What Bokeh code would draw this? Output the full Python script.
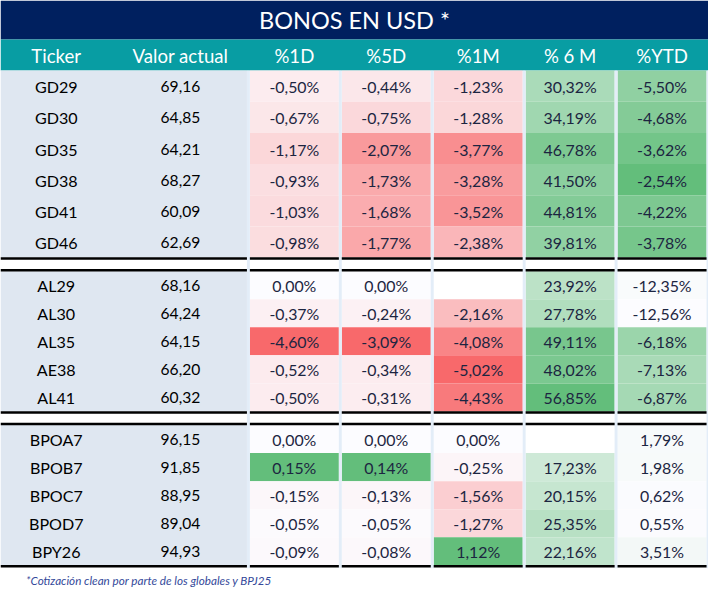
from bokeh.plotting import figure
from bokeh.models import Range1d, ColumnDataSource
from bokeh.embed import file_html
from bokeh.resources import INLINE
from bokeh.core.properties import value

# ---------------- data ----------------
title_text = "BONOS EN USD *"
headers = ["Ticker", "Valor actual", "%1D", "%5D", "%1M", "% 6 M", "%YTD"]
tickers = ["GD29", "GD30", "GD35", "GD38", "GD41", "GD46",
           "AL29", "AL30", "AL35", "AE38", "AL41",
           "BPOA7", "BPOB7", "BPOC7", "BPOD7", "BPY26"]
valor = [69.16, 64.85, 64.21, 68.27, 60.09, 62.69,
         68.16, 64.24, 64.15, 66.20, 60.32,
         96.15, 91.85, 88.95, 89.04, 94.93]
chg_1d = [-0.50, -0.67, -1.17, -0.93, -1.03, -0.98,
          0.00, -0.37, -4.60, -0.52, -0.50,
          0.00, 0.15, -0.15, -0.05, -0.09]
chg_5d = [-0.44, -0.75, -2.07, -1.73, -1.68, -1.77,
          0.00, -0.24, -3.09, -0.34, -0.31,
          0.00, 0.14, -0.13, -0.05, -0.08]
chg_1m = [-1.23, -1.28, -3.77, -3.28, -3.52, -2.38,
          None, -2.16, -4.08, -5.02, -4.43,
          0.00, -0.25, -1.56, -1.27, 1.12]
chg_6m = [30.32, 34.19, 46.78, 41.50, 44.81, 39.81,
          23.92, 27.78, 49.11, 48.02, 56.85,
          None, 17.23, 20.15, 25.35, 22.16]
chg_ytd = [-5.50, -4.68, -3.62, -2.54, -4.22, -3.78,
           -12.35, -12.56, -6.18, -7.13, -6.87,
           1.79, 1.98, 0.62, 0.55, 3.51]
group_sizes = [6, 5, 5]
footnote = "*Cotización clean por parte de los globales y BPJ25"

# ---------------- styles / layout ----------------
W, H = 724, 610
FW, FH = 708, 594
S = FW / W
FONT = "Lato"
NAVY = "#00205F"
TEAL = "#089DA3"
LEFT_BG = "#DFE7F1"
SEP = "#E3EDF8"
TXT = "#1C2541"
RED = (248, 105, 107)
MID = (252, 252, 255)
GREEN = (99, 190, 123)

def lerp(c0, c1, t):
    t = max(0.0, min(1.0, t))
    return "#%02x%02x%02x" % tuple(int(round(a + (b - a) * t)) for a, b in zip(c0, c1))

def diverging(vals):
    nums = [v for v in vals if v is not None]
    lo, hi = min(nums), max(nums)
    out = []
    for v in vals:
        if v is None:
            out.append("#FFFFFF")
        elif v < 0:
            out.append(lerp(MID, RED, v / lo))
        elif v > 0:
            out.append(lerp(MID, GREEN, v / hi))
        else:
            out.append(lerp(MID, MID, 0))
    return out

def fmt_pct(v):
    return "" if v is None else ("%.2f" % v).replace(".", ",") + "%"

# YTD colours: first two groups share a white->green scale; the last group is nearly neutral
n12 = group_sizes[0] + group_sizes[1]
ytd12 = chg_ytd[:n12]
lo12, hi12 = min(ytd12), max(ytd12)
ref_max = max(v for v in chg_6m if v is not None)
ytd_colors = [lerp(MID, GREEN, (v - lo12) / (hi12 - lo12)) for v in ytd12] + \
             [lerp(MID, GREEN, v / ref_max) for v in chg_ytd[n12:]]

col_values = [chg_1d, chg_5d, chg_1m, chg_6m, chg_ytd]
col_colors = [diverging(chg_1d), diverging(chg_5d), diverging(chg_1m), diverging(chg_6m), ytd_colors]

# geometry
TITLE_B = 40
HEAD_B = 72
group_tops = [72, 278, 436]
group_rh = [32, 28.8, 28.8]
left_x0, left_x1 = 0, 252
col_x0 = [255, 349, 443, 537, 631]
col_w = 91
sep_x = [252, 346, 440, 534, 628, 722]
text_x = [57, 184] + [x + col_w / 2 for x in col_x0]

row_top, row_bot = [], []
for g, n in enumerate(group_sizes):
    for i in range(n):
        row_top.append(group_tops[g] + i * group_rh[g])
        row_bot.append(group_tops[g] + (i + 1) * group_rh[g])
row_mid = [(a + b) / 2 for a, b in zip(row_top, row_bot)]

p = figure(width=FW, height=FH, x_range=Range1d(0, W), y_range=Range1d(H, 0),
           output_backend="svg", toolbar_location=None,
           x_axis_location=None, y_axis_location=None,
           min_border=0, min_border_left=0, min_border_right=0,
           min_border_top=0, min_border_bottom=0,
           outline_line_color=None, background_fill_color="white",
           border_fill_color="white")
p.grid.visible = False

# title & header bands
p.quad(left=[0, 0], right=[W, W], top=[0, TITLE_B], bottom=[TITLE_B, HEAD_B],
       fill_color=[NAVY, TEAL], line_color=None)

# left block backgrounds per group
lb_top = group_tops
lb_bot = [group_tops[g] + group_sizes[g] * group_rh[g] for g in range(3)]
p.quad(left=[left_x0] * 3, right=[left_x1] * 3, top=lb_top, bottom=lb_bot,
       fill_color=LEFT_BG, line_color=None)

# coloured cells
cl, cr, ct, cb, cc = [], [], [], [], []
for j, cols in enumerate(col_colors):
    for i, c in enumerate(cols):
        cl.append(col_x0[j]); cr.append(col_x0[j] + col_w)
        ct.append(row_top[i]); cb.append(row_bot[i]); cc.append(c)
p.quad(source=ColumnDataSource(dict(left=cl, right=cr, top=ct, bottom=cb, color=cc)),
       left="left", right="right", top="top", bottom="bottom",
       fill_color="color", line_color=None)

# black group rules
rule_y = []
for g in range(3):
    if g > 0:
        rule_y.append(lb_top[g] - 1)
    rule_y.append(lb_bot[g] + 1)
p.quad(left=[0] * len(rule_y), right=[W] * len(rule_y),
       top=[y - 1.3 for y in rule_y], bottom=[y + 1.3 for y in rule_y],
       fill_color="black", line_color=None)

# light-blue column separators
p.quad(left=sep_x, right=[x + 3 for x in sep_x[:-1]] + [W],
       top=[HEAD_B] * len(sep_x), bottom=[lb_bot[-1] + 3] * len(sep_x),
       fill_color=SEP, line_color=None)

# title
p.text(x=[W / 2], y=[TITLE_B / 2 + 0.5], text=[title_text], text_color="white",
       text_align="center", text_baseline="middle",
       text_font=value(FONT), text_font_size=value("%.1fpx" % (24 * S)))

# header texts
p.text(x=text_x, y=[(TITLE_B + HEAD_B) / 2 + 0.5] * len(headers), text=headers,
       text_color="white", text_align="center", text_baseline="middle",
       text_font=value(FONT), text_font_size=value("%.1fpx" % (19 * S)))

# left block texts
p.text(x=[text_x[0]] * len(tickers), y=[m + 0.5 for m in row_mid], text=tickers,
       text_color="black", text_align="center", text_baseline="middle",
       text_font=value(FONT), text_font_size=value("%.1fpx" % (16.5 * S)))
p.text(x=[text_x[1]] * len(valor), y=[m + 0.5 for m in row_mid],
       text=[("%.2f" % v).replace(".", ",") for v in valor],
       text_color="black", text_align="center", text_baseline="middle",
       text_font=value(FONT), text_font_size=value("%.1fpx" % (16 * S)))

# data texts
tx, ty, tt = [], [], []
for j, vals in enumerate(col_values):
    for i, v in enumerate(vals):
        tx.append(text_x[j + 2]); ty.append(row_mid[i] + 0.5); tt.append(fmt_pct(v))
p.text(x=tx, y=ty, text=tt, text_color=TXT, text_align="center", text_baseline="middle",
       text_font=value(FONT), text_font_size=value("%.1fpx" % (16.3 * S)))

# footnote
p.text(x=[26], y=[595], text=[footnote], text_color="#34499A",
       text_align="left", text_baseline="middle", text_font_style="italic",
       text_font=value(FONT), text_font_size=value("%.1fpx" % (12 * S)))

open("out.html", "w").write(file_html(p, INLINE))
